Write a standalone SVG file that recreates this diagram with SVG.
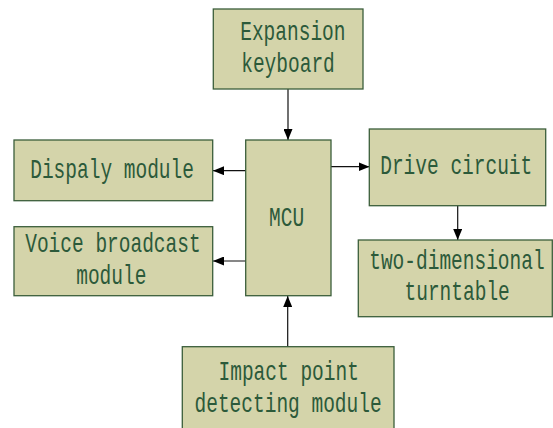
<svg xmlns="http://www.w3.org/2000/svg" width="553" height="428" viewBox="0 0 553 428">
  <style>
    .box { fill: #d4d4aa; stroke: #3b5e3b; stroke-width: 1.3; }
    /* narrow monospace: 19.5px gives an 11.7px cell, then stretched tall */
    .lbl { font-family: "Liberation Mono", "DejaVu Sans Mono", monospace; font-size: 19.5px; fill: #2c5a3a; }
    .wire { stroke: #111; stroke-width: 1.2; fill: none; marker-end: url(#tip); }
  </style>
  <defs>
    <marker id="tip" markerWidth="11" markerHeight="9" refX="11" refY="4.5" orient="auto" markerUnits="userSpaceOnUse">
      <path d="M0,0 L11,4.5 L0,9 Z" fill="#000"/>
    </marker>
  </defs>
  <rect width="553" height="428" fill="#fff"/>

  <g id="connectors">
    <line class="wire" x1="288" y1="89" x2="288" y2="140"/>
    <line class="wire" x1="246" y1="170.7" x2="213" y2="170.7"/>
    <line class="wire" x1="246" y1="261" x2="213" y2="261"/>
    <line class="wire" x1="331" y1="166.7" x2="369.5" y2="166.7"/>
    <line class="wire" x1="457.7" y1="205.7" x2="457.7" y2="240"/>
    <line class="wire" x1="287.7" y1="346.7" x2="287.7" y2="296"/>
  </g>

  <g id="expansion-keyboard">
    <rect class="box" x="213.3" y="9" width="149.7" height="80"/>
    <text class="lbl" transform="translate(240.2,40) scale(1,1.42)">Expansion</text>
    <text class="lbl" transform="translate(241.2,71.7) scale(1,1.42)">keyboard</text>
  </g>

  <g id="display-module">
    <rect class="box" x="14" y="140" width="198.7" height="60.7"/>
    <text class="lbl" transform="translate(30.2,178.3) scale(1,1.42)">Dispaly module</text>
  </g>

  <g id="voice-module">
    <rect class="box" x="14" y="226.7" width="198.7" height="69"/>
    <text class="lbl" transform="translate(25.2,252.3) scale(1,1.42)">Voice broadcast</text>
    <text class="lbl" transform="translate(76.2,284.3) scale(1,1.42)">module</text>
  </g>

  <g id="mcu">
    <rect class="box" x="245.7" y="140" width="85.3" height="155.7"/>
    <text class="lbl" transform="translate(269,225.7) scale(1,1.42)">MCU</text>
  </g>

  <g id="drive-circuit">
    <rect class="box" x="369.3" y="129" width="176.4" height="76.7"/>
    <text class="lbl" transform="translate(380.2,174.3) scale(1,1.42)">Drive circuit</text>
  </g>

  <g id="turntable">
    <rect class="box" x="358.3" y="240" width="194" height="76.7"/>
    <text class="lbl" transform="translate(369.2,269) scale(1,1.42)">two-dimensional</text>
    <text class="lbl" transform="translate(404.5,300) scale(1,1.42)">turntable</text>
  </g>

  <g id="impact-detector">
    <rect class="box" x="182.3" y="346.7" width="211.7" height="90"/>
    <text class="lbl" transform="translate(218.5,380) scale(1,1.42)">Impact point</text>
    <text class="lbl" transform="translate(194.5,411.7) scale(1,1.42)">detecting module</text>
  </g>
</svg>
